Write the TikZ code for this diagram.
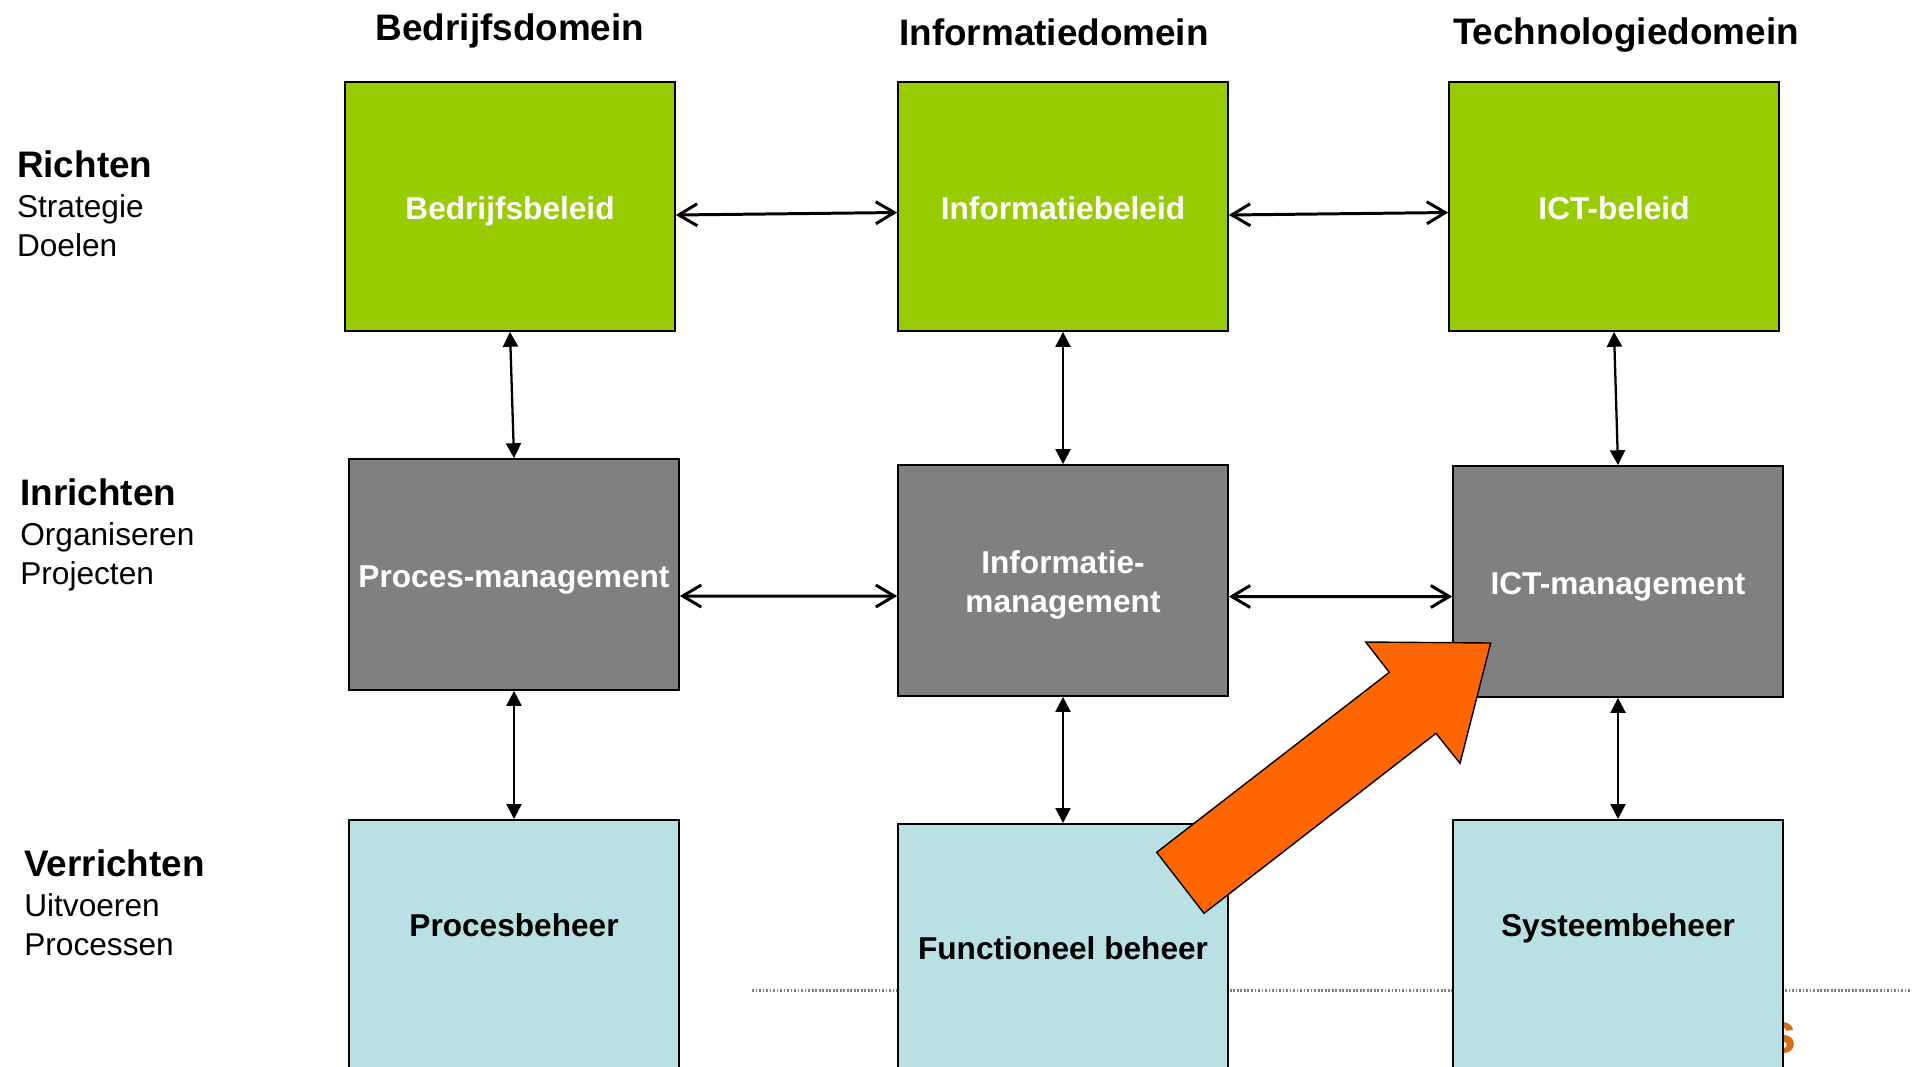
\documentclass[tikz,border=0pt]{standalone}
\usepackage{fontspec}
\setmainfont{Liberation Sans}
\usetikzlibrary{arrows.meta,positioning}
\definecolor{groen}{RGB}{153,204,0}
\definecolor{grijs}{RGB}{128,128,128}
\definecolor{lichtblauw}{RGB}{185,224,227}
\definecolor{oranje}{RGB}{255,102,0}
\definecolor{logooranje}{RGB}{214,110,20}
\tikzset{
  box/.style={draw=black, line width=1pt, minimum width=6.6cm, inner sep=1pt, align=center,
    font=\bfseries\fontsize{18}{21.9}\selectfont},
  eenregel/.style={text height=15pt, text depth=0pt},
  beleid/.style={box, eenregel, fill=groen, text=white, minimum height=4.98cm},
  mgmt/.style={box, eenregel, fill=grijs, text=white, minimum height=4.62cm},
  beheer/.style={box, fill=lichtblauw, minimum height=6cm, anchor=north},
  beheertekst/.style={anchor=base, inner sep=0pt, font=\bfseries\fontsize{18}{21.9}\selectfont},
  domein/.style={anchor=base, inner sep=0pt, font=\bfseries\fontsize{21}{25}\selectfont},
  niveau/.style={anchor=north west, inner sep=0pt, align=left, font=\fontsize{18}{21.8}\selectfont},
  hpijl/.style={{Straight Barb[length=10.5pt,width=12.5pt]}-{Straight Barb[length=10.5pt,width=12.5pt]}, line width=1.7pt},
  vpijl/.style={{Triangle[length=8.5pt,width=8.5pt]}-{Triangle[length=8.5pt,width=8.5pt]}, line width=1.3pt},
  stippel/.style={draw=gray, line width=1.2pt, dash pattern=on 1pt off 1pt},
  pijlvorm/.style={draw=black, line width=0.8pt, fill=oranje, line join=miter}
}
\begin{document}
\begin{tikzpicture}[x=0.02cm,y=-0.02cm]
  \useasboundingbox (0,0) rectangle (1912,1066);
  \clip (0,0) rectangle (1912,1066);
  % kolomkoppen
  \node[domein] (dom1) at (510,40) {Bedrijfsdomein};
  \node[domein] (dom2) at (1054,45) {Informatiedomein};
  \node[domein] (dom3) at (1626,44) {Technologiedomein};
  % rijen
  \node[niveau] (richten) at (16.7,150) {{\bfseries\fontsize{21}{21.8}\selectfont Richten}\\[1.4pt]Strategie\\Doelen};
  \node[niveau] (inrichten) at (20,478) {{\bfseries\fontsize{21}{21.8}\selectfont Inrichten}\\[1.4pt]Organiseren\\Projecten};
  \node[niveau] (verrichten) at (24,849) {{\bfseries\fontsize{21}{21.8}\selectfont Verrichten}\\[1.4pt]Uitvoeren\\Processen};
  % achtergrond: stippellijn en stukje logo
  \draw[stippel] (752,990.5) -- (1912,990.5);
  \node[anchor=base east, inner sep=0pt, text=logooranje, font=\bfseries\fontsize{33}{33}\selectfont] (logo) at (1797,1053) {s};
  % blokken
  \node[beleid] (b1) at (510,206.5) {Bedrijfsbeleid};
  \node[beleid] (b2) at (1063,206.5) {Informatiebeleid};
  \node[beleid] (b3) at (1614,206.5) {ICT-beleid};
  \node[mgmt] (m1) at (514,574.5) {Proces-management};
  \node[mgmt, text height=, text depth=] (m2) at (1063,580.5) {\rule{0pt}{18pt}Informatie-\\management};
  \node[mgmt] (m3) at (1618,581.5) {ICT-management};
  \node[beheer] (p1) at (514,819) {};
  \node[beheer] (p2) at (1063,823) {};
  \node[beheer] (p3) at (1618,819) {};
  \node[beheertekst] (t1) at (514,936) {Procesbeheer};
  \node[beheertekst] (t2) at (1063,959) {Functioneel beheer};
  \node[beheertekst] (t3) at (1618,936) {Systeembeheer};
  % horizontale pijlen
  \draw[hpijl] ([yshift=-0.17cm]b1.east) -- ([yshift=-0.12cm]b2.west);
  \draw[hpijl] ([yshift=-0.17cm]b2.east) -- ([yshift=-0.12cm]b3.west);
  \draw[hpijl] ([yshift=-0.43cm]m1.east) -- ([yshift=-0.31cm]m2.west);
  \draw[hpijl] ([yshift=-0.32cm]m2.east) -- ([yshift=-0.30cm]m3.west);
  \draw[hpijl] ([yshift=-2.52cm]p1.east) -- ([yshift=-2.44cm]p2.west);
  \draw[hpijl] ([yshift=-2.44cm]p2.east) -- ([yshift=-2.52cm]p3.west);
  % verticale pijlen
  \draw[vpijl] (b1.south) -- (m1.north);
  \draw[vpijl] (b2.south) -- (m2.north);
  \draw[vpijl] (b3.south) -- (m3.north);
  \draw[vpijl] (m1.south) -- (p1.north);
  \draw[vpijl] (m2.south) -- (p2.north);
  \draw[vpijl] (m3.south) -- (p3.north);
  % oranje pijl
  \draw[pijlvorm] (1156.7,852.3) -- (1204,913.3) -- (1436,733.3) -- (1460,763.3)
    -- (1490.7,643) -- (1365.7,642) -- (1389.3,672.3) -- cycle;
\end{tikzpicture}
\end{document}
